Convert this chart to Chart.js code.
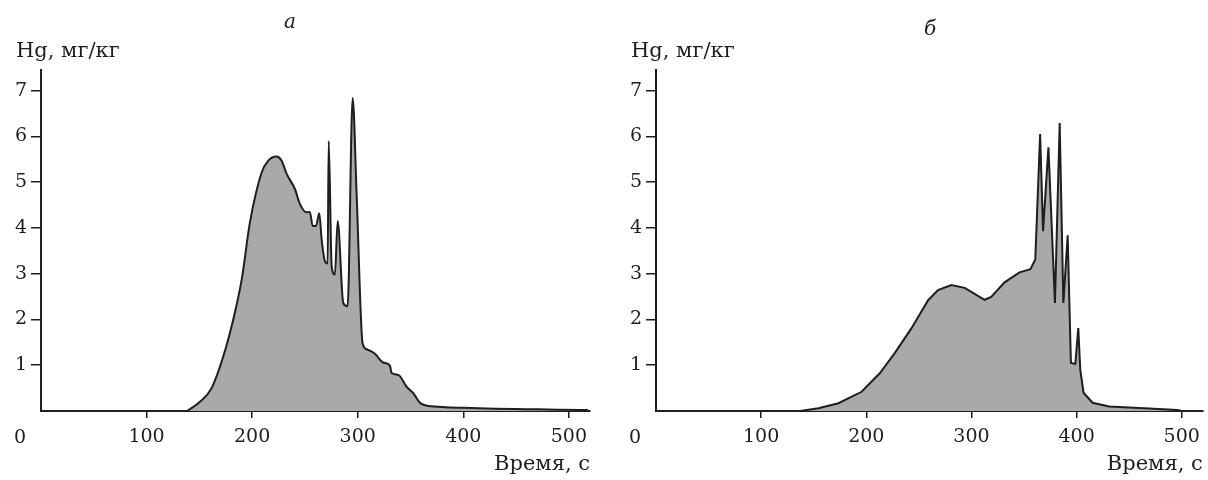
<!DOCTYPE html>
<html>
<head>
<meta charset="utf-8">
<script src="https://cdn.jsdelivr.net/npm/chart.js@4.4.0/dist/chart.umd.min.js"></script>
<style>
  html, body { margin: 0; padding: 0; background: #fff; }
  #wrap { position: relative; width: 1208px; height: 480px; }
  .cv { position: absolute; top: 0; width: 604px; height: 480px; }
</style>
</head>
<body>
<div id="wrap">
  <div class="cv" style="left:0"><canvas id="cA" width="604" height="480"></canvas></div>
  <div class="cv" style="left:604px"><canvas id="cB" width="604" height="480"></canvas></div>
</div>
<script>
// ---- data ----
const panelTitles = ['а', 'б'];
const yAxisLabel = 'Hg, мг/кг';
const xAxisLabel = 'Время, с';
const xTickValues = [0, 100, 200, 300, 400, 500];
const yTickValues = [1, 2, 3, 4, 5, 6, 7];

const timeA = [138.5, 150.6, 161.6, 172.6, 182.1, 190.1, 197.9, 209, 215.3, 223.2, 227.9, 232.7, 240.5, 245.3, 251.6, 254.7, 257.3, 260.4, 263.6, 265.8, 269, 271.5, 272.5, 275.3, 278.4, 281, 286.3, 290.4, 295.2, 299, 304.6, 308.4, 316.3, 324.1, 330.5, 332.1, 338.4, 346.3, 352.6, 358.9, 365, 380, 400, 430, 460, 490, 518];
const hgA   = [0, 0.2, 0.5, 1.19, 2.0, 2.87, 4.12, 5.21, 5.47, 5.56, 5.47, 5.18, 4.85, 4.52, 4.34, 4.35, 4.04, 4.04, 4.32, 3.75, 3.27, 3.22, 5.9, 3.16, 2.98, 4.15, 2.36, 2.29, 6.84, 4.7, 1.48, 1.35, 1.25, 1.06, 0.99, 0.83, 0.79, 0.53, 0.39, 0.18, 0.12, 0.09, 0.07, 0.05, 0.04, 0.03, 0.02];

const timeB = [137.2, 154.5, 173.5, 195.5, 213, 227.2, 243, 258.8, 268.2, 280.9, 293.6, 312.5, 318.8, 331.5, 345.7, 356.1, 360.7, 365.3, 368.1, 373.2, 379.4, 383.9, 387.4, 391.5, 394.6, 398.8, 401.6, 403.5, 406.6, 415.2, 431, 464.2, 495.7, 500];
const hgB   = [0, 0.06, 0.17, 0.42, 0.83, 1.27, 1.81, 2.42, 2.64, 2.75, 2.69, 2.43, 2.49, 2.81, 3.03, 3.1, 3.31, 6.05, 3.93, 5.76, 2.36, 6.29, 2.36, 3.84, 1.05, 1.03, 1.81, 0.9, 0.4, 0.18, 0.1, 0.06, 0.02, 0];

const X_MAX = 520, Y_MAX = 7.45;
const INK = '#1e1e1e';
const FONT = '"DejaVu Serif", "Liberation Serif", serif';

function makeChart(id, times, vals, cfg) {
  const textPlugin = {
    id: 'panelText',
    afterDraw(chart) {
      const ctx = chart.ctx, a = chart.chartArea;
      ctx.save();
      ctx.fillStyle = INK;
      ctx.textBaseline = 'alphabetic';
      // panel letter
      ctx.font = 'italic 20px ' + FONT;
      ctx.textAlign = 'center';
      ctx.fillText(cfg.title, cfg.titleX, cfg.titleY);
      // y-axis unit label
      ctx.font = '21px ' + FONT;
      ctx.textAlign = 'left';
      ctx.fillText(yAxisLabel, a.left - 25, 57);
      // x-axis label
      ctx.textAlign = 'right';
      ctx.fillText(xAxisLabel, a.right, 470);
      // origin label "0"
      ctx.font = '19px ' + FONT;
      ctx.textAlign = 'center';
      ctx.fillText(String(xTickValues[0]), a.left - 21, 443);
      ctx.restore();
    }
  };
  return new Chart(document.getElementById(id), {
    type: 'line',
    data: {
      datasets: [{
        data: times.map((t, i) => ({ x: t, y: vals[i] })),
        borderColor: INK,
        borderWidth: 2,
        backgroundColor: '#a9a9a9',
        fill: 'origin',
        pointRadius: 0,
        tension: cfg.tension,
        cubicInterpolationMode: cfg.mode
      }]
    },
    options: {
      responsive: false,
      animation: false,
      layout: { padding: { left: 0, top: 70, right: cfg.padRight, bottom: 0 } },
      plugins: { legend: { display: false }, tooltip: { enabled: false }, title: { display: false } },
      scales: {
        x: {
          type: 'linear', min: 0, max: X_MAX,
          afterBuildTicks: s => { s.ticks = xTickValues.filter(v => v !== 0).map(v => ({ value: v })); },
          afterFit: s => { s.height = 69; },
          ticks: { includeBounds: false, font: { family: FONT, size: 19 }, color: INK, padding: 8, maxRotation: 0 },
          grid: { drawOnChartArea: false, drawTicks: true, tickLength: 7, color: INK, lineWidth: 1.5 },
          border: { display: true, color: INK, width: 2 }
        },
        y: {
          type: 'linear', min: 0, max: Y_MAX,
          afterBuildTicks: s => { s.ticks = yTickValues.map(v => ({ value: v })); },
          afterFit: s => { s.width = cfg.axisLeft; },
          ticks: { includeBounds: false, font: { family: FONT, size: 19 }, color: INK, padding: 4 },
          grid: { drawOnChartArea: false, drawTicks: true, tickLength: 10, color: INK, lineWidth: 1.5 },
          border: { display: true, color: INK, width: 2 }
        }
      }
    },
    plugins: [textPlugin]
  });
}

makeChart('cA', timeA, hgA, { title: panelTitles[0], titleX: 290, titleY: 28, padRight: 14, axisLeft: 41, tension: 0.4, mode: 'monotone' });
makeChart('cB', timeB, hgB, { title: panelTitles[1], titleX: 326, titleY: 35, padRight: 3, axisLeft: 52, tension: 0, mode: 'default' });
</script>
</body>
</html>
